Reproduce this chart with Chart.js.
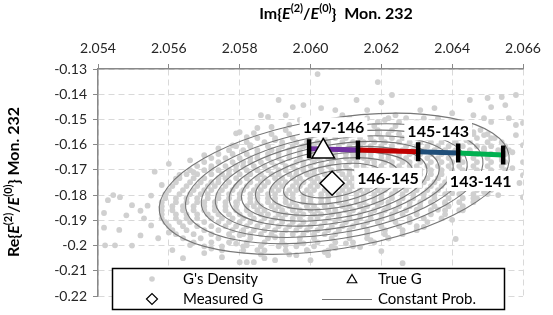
<!DOCTYPE html>
<html>
<head>
<meta charset="utf-8">
<script src="https://cdn.jsdelivr.net/npm/chart.js@4.4.1/dist/chart.umd.min.js"></script>
<style>
  html, body { margin: 0; padding: 0; background: #fff; }
  #wrap { width: 553px; height: 315px; }
</style>
</head>
<body>
<div id="wrap"><canvas id="chart" width="553" height="315"></canvas></div>
<script>
// axis ticks
const xTickValues = [2.054, 2.056, 2.058, 2.060, 2.062, 2.064, 2.066];
const xTickLabels = ['2.054', '2.056', '2.058', '2.060', '2.062', '2.064', '2.066'];
const yTickValues = [-0.13, -0.14, -0.15, -0.16, -0.17, -0.18, -0.19, -0.2, -0.21, -0.22];
const yTickLabels = ['-0.13', '-0.14', '-0.15', '-0.16', '-0.17', '-0.18', '-0.19', '-0.2', '-0.21', '-0.22'];

// G's density, read row by row off the cloud: [y, [x, x, ...]]
const densityRows = [
  [-0.1495, [2.0611, 2.0616, 2.0622, 2.0627, 2.0632, 2.0636]],
  [-0.1510, [2.0604, 2.0609, 2.0614, 2.0619, 2.0625, 2.0630, 2.0635, 2.0641]],
  [-0.1526, [2.0598, 2.0603, 2.0609, 2.0613, 2.0618, 2.0624, 2.0629, 2.0634, 2.0639, 2.0645]],
  [-0.1542, [2.0593, 2.0598, 2.0604, 2.0608, 2.0614, 2.0619, 2.0623, 2.0628, 2.0633, 2.0638, 2.0643, 2.0648]],
  [-0.1558, [2.0589, 2.0594, 2.0599, 2.0604, 2.0608, 2.0612, 2.0615, 2.0619, 2.0622, 2.0625, 2.0628, 2.0632, 2.0637, 2.0642, 2.0646, 2.0650]],
  [-0.1574, [2.0585, 2.0590, 2.0595, 2.0600, 2.0604, 2.0607, 2.0610, 2.0614, 2.0617, 2.0620, 2.0623, 2.0626, 2.0630, 2.0633, 2.0637, 2.0642, 2.0647, 2.0652]],
  [-0.1590, [2.0582, 2.0587, 2.0592, 2.0596, 2.0599, 2.0602, 2.0605, 2.0609, 2.0612, 2.0615, 2.0618, 2.0621, 2.0625, 2.0628, 2.0631, 2.0634, 2.0637, 2.0641, 2.0645, 2.0650, 2.0654]],
  [-0.1606, [2.0579, 2.0583, 2.0588, 2.0592, 2.0595, 2.0598, 2.0601, 2.0605, 2.0608, 2.0611, 2.0614, 2.0617, 2.0620, 2.0623, 2.0627, 2.0630, 2.0633, 2.0636, 2.0639, 2.0643, 2.0647, 2.0651, 2.0655]],
  [-0.1622, [2.0577, 2.0581, 2.0585, 2.0589, 2.0591, 2.0594, 2.0597, 2.0600, 2.0603, 2.0606, 2.0609, 2.0612, 2.0614, 2.0617, 2.0620, 2.0623, 2.0626, 2.0629, 2.0632, 2.0635, 2.0638, 2.0641, 2.0645, 2.0649, 2.0653, 2.0656]],
  [-0.1637, [2.0574, 2.0578, 2.0582, 2.0585, 2.0588, 2.0591, 2.0594, 2.0597, 2.0600, 2.0603, 2.0605, 2.0607, 2.0610, 2.0612, 2.0615, 2.0617, 2.0620, 2.0622, 2.0625, 2.0628, 2.0631, 2.0634, 2.0637, 2.0640, 2.0643, 2.0647, 2.0651, 2.0655]],
  [-0.1653, [2.0572, 2.0576, 2.0580, 2.0583, 2.0585, 2.0588, 2.0591, 2.0594, 2.0597, 2.0600, 2.0602, 2.0605, 2.0607, 2.0610, 2.0612, 2.0615, 2.0617, 2.0620, 2.0622, 2.0625, 2.0627, 2.0630, 2.0633, 2.0636, 2.0639, 2.0642, 2.0646, 2.0650, 2.0654]],
  [-0.1669, [2.0570, 2.0574, 2.0578, 2.0581, 2.0583, 2.0586, 2.0589, 2.0592, 2.0596, 2.0598, 2.0601, 2.0603, 2.0606, 2.0608, 2.0611, 2.0613, 2.0616, 2.0618, 2.0621, 2.0623, 2.0626, 2.0628, 2.0631, 2.0634, 2.0637, 2.0640, 2.0643, 2.0647, 2.0651, 2.0655]],
  [-0.1685, [2.0568, 2.0572, 2.0576, 2.0579, 2.0581, 2.0584, 2.0587, 2.0590, 2.0593, 2.0595, 2.0598, 2.0600, 2.0603, 2.0605, 2.0608, 2.0610, 2.0613, 2.0615, 2.0618, 2.0620, 2.0623, 2.0625, 2.0628, 2.0630, 2.0633, 2.0636, 2.0639, 2.0642, 2.0646, 2.0650, 2.0654]],
  [-0.1701, [2.0566, 2.0570, 2.0574, 2.0577, 2.0579, 2.0582, 2.0585, 2.0588, 2.0591, 2.0593, 2.0596, 2.0598, 2.0601, 2.0603, 2.0606, 2.0608, 2.0611, 2.0613, 2.0616, 2.0618, 2.0621, 2.0623, 2.0626, 2.0628, 2.0631, 2.0634, 2.0637, 2.0640, 2.0643, 2.0647, 2.0651, 2.0655]],
  [-0.1717, [2.0565, 2.0568, 2.0572, 2.0575, 2.0577, 2.0580, 2.0583, 2.0586, 2.0589, 2.0591, 2.0594, 2.0596, 2.0599, 2.0601, 2.0604, 2.0606, 2.0609, 2.0611, 2.0614, 2.0616, 2.0619, 2.0621, 2.0624, 2.0626, 2.0629, 2.0631, 2.0634, 2.0637, 2.0640, 2.0643, 2.0647, 2.0651, 2.0654]],
  [-0.1733, [2.0563, 2.0567, 2.0570, 2.0574, 2.0576, 2.0579, 2.0582, 2.0585, 2.0587, 2.0590, 2.0592, 2.0595, 2.0597, 2.0600, 2.0602, 2.0605, 2.0607, 2.0610, 2.0612, 2.0615, 2.0617, 2.0620, 2.0622, 2.0625, 2.0627, 2.0630, 2.0633, 2.0636, 2.0639, 2.0642, 2.0646, 2.0650, 2.0654]],
  [-0.1749, [2.0562, 2.0566, 2.0569, 2.0572, 2.0574, 2.0577, 2.0580, 2.0583, 2.0586, 2.0588, 2.0591, 2.0593, 2.0596, 2.0598, 2.0601, 2.0603, 2.0606, 2.0608, 2.0611, 2.0613, 2.0616, 2.0618, 2.0621, 2.0623, 2.0626, 2.0629, 2.0632, 2.0635, 2.0638, 2.0641, 2.0645, 2.0649, 2.0653]],
  [-0.1764, [2.0561, 2.0565, 2.0568, 2.0571, 2.0573, 2.0576, 2.0579, 2.0582, 2.0585, 2.0587, 2.0590, 2.0592, 2.0595, 2.0597, 2.0600, 2.0602, 2.0605, 2.0607, 2.0610, 2.0612, 2.0615, 2.0617, 2.0620, 2.0622, 2.0625, 2.0628, 2.0631, 2.0634, 2.0637, 2.0640, 2.0644, 2.0648, 2.0652]],
  [-0.1780, [2.0560, 2.0564, 2.0567, 2.0570, 2.0572, 2.0575, 2.0578, 2.0581, 2.0584, 2.0586, 2.0589, 2.0591, 2.0594, 2.0596, 2.0599, 2.0601, 2.0604, 2.0606, 2.0609, 2.0611, 2.0614, 2.0616, 2.0619, 2.0621, 2.0624, 2.0627, 2.0630, 2.0633, 2.0636, 2.0639, 2.0643, 2.0647, 2.0651]],
  [-0.1796, [2.0559, 2.0563, 2.0566, 2.0569, 2.0571, 2.0574, 2.0577, 2.0580, 2.0583, 2.0585, 2.0588, 2.0590, 2.0593, 2.0595, 2.0598, 2.0600, 2.0603, 2.0605, 2.0608, 2.0610, 2.0613, 2.0615, 2.0618, 2.0620, 2.0623, 2.0626, 2.0629, 2.0632, 2.0635, 2.0638, 2.0642, 2.0646, 2.0650]],
  [-0.1812, [2.0559, 2.0562, 2.0565, 2.0568, 2.0571, 2.0574, 2.0577, 2.0580, 2.0583, 2.0585, 2.0588, 2.0590, 2.0593, 2.0595, 2.0598, 2.0600, 2.0603, 2.0605, 2.0608, 2.0610, 2.0613, 2.0615, 2.0618, 2.0620, 2.0623, 2.0626, 2.0629, 2.0632, 2.0635, 2.0639, 2.0643, 2.0647]],
  [-0.1828, [2.0558, 2.0562, 2.0565, 2.0568, 2.0570, 2.0573, 2.0576, 2.0579, 2.0583, 2.0585, 2.0588, 2.0590, 2.0593, 2.0595, 2.0598, 2.0600, 2.0603, 2.0605, 2.0608, 2.0610, 2.0613, 2.0615, 2.0618, 2.0620, 2.0622, 2.0625, 2.0628, 2.0631, 2.0634, 2.0638, 2.0642, 2.0646]],
  [-0.1844, [2.0558, 2.0561, 2.0564, 2.0567, 2.0570, 2.0573, 2.0576, 2.0579, 2.0582, 2.0584, 2.0586, 2.0589, 2.0591, 2.0594, 2.0596, 2.0599, 2.0601, 2.0604, 2.0606, 2.0609, 2.0611, 2.0614, 2.0616, 2.0619, 2.0622, 2.0625, 2.0628, 2.0631, 2.0635, 2.0639, 2.0643]],
  [-0.1860, [2.0558, 2.0561, 2.0564, 2.0567, 2.0570, 2.0573, 2.0576, 2.0579, 2.0582, 2.0585, 2.0587, 2.0590, 2.0592, 2.0595, 2.0597, 2.0600, 2.0602, 2.0605, 2.0607, 2.0610, 2.0612, 2.0615, 2.0618, 2.0621, 2.0624, 2.0627, 2.0630, 2.0634, 2.0638, 2.0642]],
  [-0.1876, [2.0558, 2.0562, 2.0565, 2.0568, 2.0571, 2.0574, 2.0577, 2.0580, 2.0583, 2.0586, 2.0588, 2.0591, 2.0593, 2.0596, 2.0598, 2.0601, 2.0603, 2.0606, 2.0608, 2.0611, 2.0614, 2.0617, 2.0620, 2.0623, 2.0626, 2.0630, 2.0634, 2.0638]],
  [-0.1892, [2.0558, 2.0562, 2.0565, 2.0568, 2.0572, 2.0575, 2.0578, 2.0581, 2.0584, 2.0587, 2.0590, 2.0592, 2.0595, 2.0597, 2.0600, 2.0602, 2.0605, 2.0608, 2.0611, 2.0614, 2.0617, 2.0620, 2.0623, 2.0628, 2.0632, 2.0637]],
  [-0.1907, [2.0559, 2.0563, 2.0566, 2.0570, 2.0574, 2.0577, 2.0580, 2.0583, 2.0586, 2.0589, 2.0592, 2.0595, 2.0598, 2.0601, 2.0604, 2.0607, 2.0610, 2.0613, 2.0616, 2.0619, 2.0624, 2.0628, 2.0633]],
  [-0.1923, [2.0560, 2.0564, 2.0568, 2.0572, 2.0576, 2.0579, 2.0582, 2.0585, 2.0588, 2.0591, 2.0594, 2.0597, 2.0600, 2.0603, 2.0606, 2.0609, 2.0612, 2.0615, 2.0620, 2.0625, 2.0630]],
  [-0.1939, [2.0561, 2.0565, 2.0570, 2.0574, 2.0578, 2.0581, 2.0584, 2.0587, 2.0590, 2.0593, 2.0596, 2.0599, 2.0602, 2.0605, 2.0608, 2.0611, 2.0616, 2.0621, 2.0626, 2.0630]],
  [-0.1955, [2.0562, 2.0567, 2.0572, 2.0577, 2.0581, 2.0583, 2.0586, 2.0589, 2.0592, 2.0595, 2.0598, 2.0601, 2.0604, 2.0607, 2.0611, 2.0616, 2.0621, 2.0626]],
  [-0.1971, [2.0564, 2.0569, 2.0574, 2.0578, 2.0583, 2.0588, 2.0592, 2.0597, 2.0601, 2.0606, 2.0611, 2.0616, 2.0622]],
  [-0.1987, [2.0567, 2.0572, 2.0577, 2.0582, 2.0587, 2.0592, 2.0597, 2.0602, 2.0607, 2.0612, 2.0618]],
  [-0.2003, [2.0570, 2.0575, 2.0581, 2.0586, 2.0591, 2.0596, 2.0601, 2.0606, 2.0612]],
  [-0.2019, [2.0575, 2.0581, 2.0587, 2.0593, 2.0599, 2.0605]],
  [-0.2035, [2.0586, 2.0594]]
];

// G's density, scattered points outside the outer contour: [x, y]
const densityExtra = [
  [2.05417, -0.1871], [2.05417, -0.1929], [2.0542, -0.1999], [2.05448, -0.1999], [2.05443, -0.1800],
  [2.05462, -0.1808], [2.05496, -0.1840], [2.05428, -0.1820], [2.05496, -0.2000], [2.0552, -0.1862],
  [2.0553, -0.1892], [2.0554, -0.1842], [2.0555, -0.1920], [2.0555, -0.1802], [2.0548, -0.1880],
  [2.0546, -0.1938], [2.0552, -0.1960], [2.0557, -0.1971], [2.0556, -0.1707], [2.0560, -0.1676],
  [2.0558, -0.1760], [2.0559, -0.1802], [2.0562, -0.1735], [2.0563, -0.1720], [2.0567, -0.1710],
  [2.0572, -0.1695], [2.0574, -0.1615], [2.0578, -0.1603], [2.0579, -0.1555], [2.0566, -0.1662],
  [2.0570, -0.1642], [2.0561, -0.2018], [2.0564, -0.2050], [2.0570, -0.2030], [2.0575, -0.2046],
  [2.0579, -0.1992], [2.0560, -0.1948], [2.0566, -0.1998], [2.0572, -0.2012],
  [2.0602, -0.1320], [2.0619, -0.1352], [2.0591, -0.1423], [2.0595, -0.1451], [2.0598, -0.1443],
  [2.0603, -0.1455], [2.0607, -0.1463], [2.0609, -0.1483], [2.0616, -0.1463], [2.0588, -0.1490],
  [2.0586, -0.1483], [2.0593, -0.1483], [2.0589, -0.1530], [2.0585, -0.1534], [2.0580, -0.1550],
  [2.0582, -0.1570], [2.0584, -0.1554], [2.0594, -0.1522], [2.0583, -0.1602], [2.0590, -0.1582],
  [2.0597, -0.1502], [2.0613, -0.1423], [2.0623, -0.1403], [2.0620, -0.1432], [2.0624, -0.1483],
  [2.0621, -0.1502],
  [2.0631, -0.1463], [2.0635, -0.1455], [2.0640, -0.1475], [2.0646, -0.1483], [2.0649, -0.1495],
  [2.0651, -0.1510], [2.0650, -0.1415], [2.0654, -0.1411], [2.0658, -0.1403], [2.0651, -0.1451],
  [2.0655, -0.1443], [2.0656, -0.1495], [2.0658, -0.1522], [2.0660, -0.1514], [2.0646, -0.1550],
  [2.0649, -0.1562], [2.0651, -0.1574], [2.0658, -0.1562], [2.0660, -0.1602], [2.0649, -0.1614],
  [2.0657, -0.1630], [2.0660, -0.1669], [2.0657, -0.1693], [2.0660, -0.1721], [2.0654, -0.1733],
  [2.0645, -0.1423], [2.0642, -0.1522], [2.0638, -0.1522], [2.0644, -0.1582], [2.0654, -0.1661],
  [2.0659, -0.1752], [2.0660, -0.1808], [2.0649, -0.1788], [2.0653, -0.1800], [2.0646, -0.1812],
  [2.0643, -0.1860], [2.0640, -0.1792], [2.0638, -0.1834], [2.0636, -0.1858], [2.0630, -0.1858],
  [2.0632, -0.1926], [2.0640, -0.1898], [2.0641, -0.1974], [2.0622, -0.1971], [2.0626, -0.2070],
  [2.0620, -0.2022], [2.0656, -0.1760], [2.0645, -0.1760],
  [2.0580, -0.1959], [2.0582, -0.1999], [2.0590, -0.1967], [2.0593, -0.1999], [2.0598, -0.1991],
  [2.0599, -0.2018], [2.0604, -0.2026], [2.0607, -0.2010], [2.0610, -0.1991], [2.0614, -0.2006],
  [2.0580, -0.2066], [2.0582, -0.2066], [2.0584, -0.2066], [2.0587, -0.2050], [2.0590, -0.2058],
  [2.0605, -0.2038], [2.0600, -0.2058], [2.0617, -0.1979], [2.0585, -0.2018], [2.0596, -0.2038]
];

// level path: boundary points between states
const segX = [2.05996, 2.06134, 2.06304, 2.06417, 2.06544];
const segY = [-0.1616, -0.1621, -0.1628, -0.1633, -0.1641];
const segLabels = ['147-146', '146-145', '145-143', '143-141'];

const trueG = [2.06036, -0.1627];
const measuredG = [2.06061, -0.1753];

// constant probability contours around the measured G
const contourCenter = [2.06067, -0.1755];
const contourSemi = [0.0050, 0.0258];   // major (x units), minor (y units)
const contourTilt = 9.4;                // degrees
const contourLevels = [1, 0.85, 0.76, 0.68, 0.6, 0.53, 0.45, 0.37, 0.29, 0.2];

const segColors = ['#7030a0', '#c00000', '#1f4e79', '#00b050'];
const FONT = 'Lato';

const densityPoints = [];
densityRows.forEach(([y, xs]) => xs.forEach(x => densityPoints.push({ x, y })));
densityExtra.forEach(([x, y]) => densityPoints.push({ x, y }));

const segmentSets = segLabels.map((label, i) => ({
  label,
  data: [{ x: segX[i], y: segY[i] }, { x: segX[i + 1], y: segY[i + 1] }],
  showLine: true,
  borderColor: segColors[i],
  borderWidth: 5,
  pointRadius: 0,
  order: 5
}));

function drawRich(ctx, runs, x, y, size) {
  const parts = runs.map(([t, s]) => {
    const f = s === 'sup' ? `bold ${Math.round(size * 0.68)}px ${FONT}`
      : s === 'i' ? `italic bold ${size}px ${FONT}` : `bold ${size}px ${FONT}`;
    ctx.font = f;
    return { t, s, f, w: ctx.measureText(t).width };
  });
  const total = parts.reduce((a, p) => a + p.w, 0);
  let cx = x - total / 2;
  ctx.textAlign = 'left';
  ctx.textBaseline = 'middle';
  parts.forEach(p => {
    ctx.font = p.f;
    ctx.fillText(p.t, cx, p.s === 'sup' ? y - size * 0.35 : y);
    cx += p.w;
  });
}

const contourPlugin = {
  id: 'contours',
  afterDatasetDraw(chart, args) {
    if (args.index !== 0) return;
    const { ctx, chartArea, scales: { x, y } } = chart;
    const cx = x.getPixelForValue(contourCenter[0]);
    const cy = y.getPixelForValue(contourCenter[1]);
    const rx = x.getPixelForValue(contourCenter[0] + contourSemi[0]) - cx;
    const ry = cy - y.getPixelForValue(contourCenter[1] + contourSemi[1]);
    ctx.save();
    ctx.beginPath();
    ctx.rect(chartArea.left, chartArea.top, chartArea.width, chartArea.height);
    ctx.clip();
    ctx.strokeStyle = '#767676';
    ctx.lineWidth = 1.1;
    contourLevels.forEach(s => {
      ctx.beginPath();
      ctx.ellipse(cx, cy, rx * s, ry * s, -contourTilt * Math.PI / 180, 0, Math.PI * 2);
      ctx.stroke();
    });
    ctx.restore();
  }
};

const annotatePlugin = {
  id: 'annotate',
  afterDatasetsDraw(chart) {
    const { ctx, scales: { x, y } } = chart;
    ctx.save();
    ctx.font = `bold 16px ${FONT}`;
    ctx.textAlign = 'center';
    ctx.textBaseline = 'middle';
    segLabels.forEach((label, i) => {
      const mx = (x.getPixelForValue(segX[i]) + x.getPixelForValue(segX[i + 1])) / 2;
      const my = (y.getPixelForValue(segY[i]) + y.getPixelForValue(segY[i + 1])) / 2;
      const ly = i % 2 === 0 ? my - 22 : my + 27;
      const w = ctx.measureText(label).width;
      ctx.fillStyle = '#fff';
      ctx.fillRect(mx - w / 2 - 3, ly - 10, w + 6, 20);
      ctx.fillStyle = '#000';
      ctx.fillText(label, mx, ly + 1);
    });
    ctx.restore();
  },
  afterDraw(chart) {
    const { ctx } = chart;
    ctx.save();
    ctx.fillStyle = '#000';
    // axis titles
    drawRich(ctx, [['Im{', ''], ['E', 'i'], ['(2)', 'sup'], ['/', ''], ['E', 'i'], ['(0)', 'sup'], ['}  Mon. 232', '']], 336, 14, 16);
    ctx.save();
    ctx.translate(14, 182);
    ctx.rotate(-Math.PI / 2);
    drawRich(ctx, [['Re{', ''], ['E', 'i'], ['(2)', 'sup'], ['/', ''], ['E', 'i'], ['(0)', 'sup'], ['} Mon. 232', '']], 0, 0, 16);
    ctx.restore();

    // legend box
    const bx = 112, by = 268, bw = 392, bh = 41;
    ctx.fillStyle = '#fff';
    ctx.fillRect(bx, by, bw, bh);
    ctx.strokeStyle = '#000';
    ctx.lineWidth = 1.5;
    ctx.strokeRect(bx + 0.5, by + 0.5, bw, bh);

    const r1 = by + 11, r2 = by + 31;
    ctx.fillStyle = '#d0d0d0';
    ctx.beginPath();
    ctx.arc(152, r1, 2.8, 0, Math.PI * 2);
    ctx.fill();

    ctx.fillStyle = '#fff';
    ctx.strokeStyle = '#000';
    ctx.lineWidth = 1.2;
    Chart.helpers.drawPoint(ctx, { pointStyle: 'triangle', radius: 5.5, rotation: 0, borderWidth: 1.2 }, 352, r1 + 1);
    Chart.helpers.drawPoint(ctx, { pointStyle: 'rectRot', radius: 5.5, rotation: 0, borderWidth: 1.2 }, 152, r2);

    ctx.strokeStyle = '#767676';
    ctx.lineWidth = 1;
    ctx.beginPath();
    ctx.moveTo(322, r2 + 0.5);
    ctx.lineTo(372, r2 + 0.5);
    ctx.stroke();

    ctx.fillStyle = '#000';
    ctx.font = `15px ${FONT}`;
    ctx.textAlign = 'left';
    ctx.textBaseline = 'middle';
    ctx.fillText("G's Density", 183, r1);
    ctx.fillText('True G', 378, r1);
    ctx.fillText('Measured G', 183, r2);
    ctx.fillText('Constant Prob.', 378, r2);
    ctx.restore();
  }
};

new Chart(document.getElementById('chart').getContext('2d'), {
  type: 'scatter',
  data: {
    datasets: [
      {
        label: "G's Density",
        data: densityPoints,
        pointRadius: 2.9,
        pointBackgroundColor: '#d0d0d0',
        pointBorderWidth: 0,
        order: 10
      },
      ...segmentSets,
      {
        label: 'boundaries',
        data: segX.map((x, i) => ({ x, y: segY[i] })),
        pointStyle: 'line',
        rotation: 90,
        pointRadius: 9.5,
        pointBorderWidth: 4.5,
        pointBorderColor: '#000',
        order: 4
      },
      {
        label: 'True G',
        data: [{ x: trueG[0], y: trueG[1] }],
        pointStyle: 'triangle',
        pointRadius: 13,
        pointBackgroundColor: '#fff',
        pointBorderColor: '#000',
        pointBorderWidth: 1.5,
        order: 2
      },
      {
        label: 'Measured G',
        data: [{ x: measuredG[0], y: measuredG[1] }],
        pointStyle: 'rectRot',
        pointRadius: 12,
        pointBackgroundColor: '#fff',
        pointBorderColor: '#000',
        pointBorderWidth: 1.5,
        order: 1
      }
    ]
  },
  options: {
    responsive: false,
    animation: false,
    events: [],
    layout: { padding: { left: 0, top: 0, right: 30, bottom: 19 } },
    plugins: { legend: { display: false }, tooltip: { enabled: false } },
    scales: {
      x: {
        type: 'linear',
        position: 'top',
        min: 2.054,
        max: 2.066,
        afterBuildTicks: s => { s.ticks = xTickValues.map(v => ({ value: v })); },
        afterFit: s => { s.height = 69; },
        ticks: {
          autoSkip: false,
          maxRotation: 0,
          padding: 7,
          color: '#262626',
          font: { family: FONT, size: 14 },
          callback: v => xTickLabels[xTickValues.indexOf(v)]
        },
        grid: { color: '#d9d9d9', tickColor: '#898989', tickLength: 5 },
        border: { color: '#898989', width: 1.5, dash: [6, 4] }
      },
      y: {
        type: 'linear',
        min: -0.22,
        max: -0.13,
        afterBuildTicks: s => { s.ticks = yTickValues.slice().sort((a, b) => a - b).map(v => ({ value: v })); },
        afterFit: s => { s.width = 98; },
        ticks: {
          autoSkip: false,
          padding: 6,
          color: '#262626',
          font: { family: FONT, size: 14 },
          callback: v => yTickLabels[yTickValues.indexOf(v)]
        },
        grid: { color: '#d9d9d9', tickColor: '#898989', tickLength: 5 },
        border: { color: '#898989', width: 1.5, dash: [6, 4] }
      }
    }
  },
  plugins: [contourPlugin, annotatePlugin]
});
</script>
</body>
</html>
